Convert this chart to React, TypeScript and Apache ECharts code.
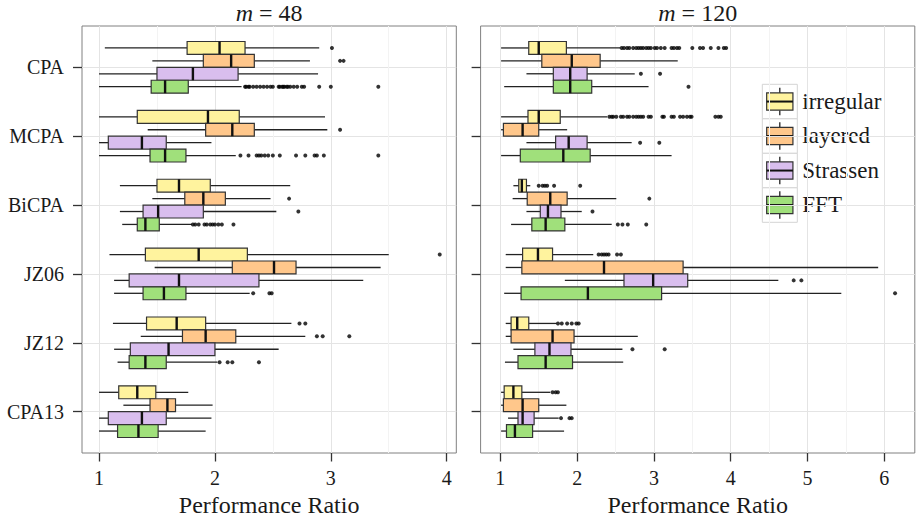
import React, { useEffect, useRef } from 'react';
import * as echarts from 'echarts';

const categories = ['CPA', 'MCPA', 'BiCPA', 'JZ06', 'JZ12', 'CPA13'];
const methods = ['irregular', 'layered', 'Strassen', 'FFT'];
const colors = ['#FFF39E', '#FFC78B', '#D9BEEE', '#A0E07B'];
const panelTitles = ['48', '120'];
const xTicks48 = [1, 2, 3, 4];
const xMinor48 = [1.5, 2.5, 3.5];
const xTicks120 = [1, 2, 3, 4, 5, 6];
const xMinor120 = [1.5, 2.5, 3.5, 4.5, 5.5];
const yTicks = [0, 1, 2, 3, 4, 5];
const axisTitle = 'Performance Ratio';

// boxes: [low whisker, q1, median, q3, high whisker] for CPA, MCPA, BiCPA, JZ06, JZ12, CPA13
const box48Irregular = [
  [1.05, 1.76, 2.04, 2.26, 2.9], [1.0, 1.33, 1.94, 2.21, 2.95], [1.18, 1.5, 1.69, 1.96, 2.65],
  [1.09, 1.4, 1.86, 2.28, 3.5], [1.12, 1.41, 1.67, 1.92, 2.66], [1.0, 1.17, 1.33, 1.49, 1.77],
];
const box48Layered = [
  [1.46, 1.9, 2.14, 2.34, 2.82], [1.42, 1.92, 2.15, 2.34, 2.97], [1.46, 1.74, 1.9, 2.09, 2.48],
  [1.48, 2.15, 2.51, 2.7, 3.43], [1.36, 1.72, 1.92, 2.18, 2.78], [1.21, 1.44, 1.59, 1.66, 1.98],
];
const box48Strassen = [
  [1.0, 1.5, 1.81, 2.2, 2.89], [1.0, 1.08, 1.37, 1.58, 1.97], [1.18, 1.38, 1.51, 1.9, 2.53],
  [1.13, 1.26, 1.69, 2.38, 3.28], [1.13, 1.27, 1.6, 2.0, 2.55], [1.0, 1.08, 1.37, 1.58, 1.97],
];
const box48FFT = [
  [1.0, 1.45, 1.57, 1.77, 2.23], [1.0, 1.44, 1.57, 1.75, 2.18], [1.2, 1.33, 1.4, 1.52, 1.8],
  [1.13, 1.38, 1.56, 1.75, 2.3], [1.16, 1.26, 1.4, 1.58, 2.02], [1.0, 1.16, 1.34, 1.51, 1.92],
];
const out48Irregular = [[3.01], [], [], [3.94], [2.73, 2.78], []];
const out48Layered = [[3.08, 3.11], [3.08], [2.64], [], [2.88, 2.93, 3.16], []];
const out48Strassen = [[], [], [2.72], [], [], []];
const out48FFT = [
  [2.26, 2.27, 2.29, 2.3, 2.33, 2.36, 2.39, 2.42, 2.45, 2.48, 2.5, 2.55, 2.56, 2.58, 2.59, 2.6, 2.62, 2.63, 2.65, 2.68, 2.71, 2.75, 2.77, 2.9, 3.0, 3.41],
  [2.22, 2.29, 2.36, 2.38, 2.4, 2.43, 2.46, 2.5, 2.56, 2.7, 2.78, 2.86, 2.88, 2.94, 3.41],
  [1.81, 1.83, 1.86, 1.91, 1.93, 1.96, 1.98, 2.0, 2.03, 2.06, 2.16],
  [2.33, 2.47, 2.49],
  [2.04, 2.11, 2.15, 2.38],
  [],
];

const box120Irregular = [
  [1.01, 1.37, 1.5, 1.86, 2.56], [1.01, 1.36, 1.5, 1.78, 2.39], [1.17, 1.24, 1.28, 1.34, 1.39],
  [1.07, 1.29, 1.49, 1.68, 2.21], [1.07, 1.14, 1.22, 1.37, 1.73], [1.01, 1.05, 1.17, 1.28, 1.65],
];
const box120Layered = [
  [1.01, 1.54, 1.93, 2.3, 3.31], [1.01, 1.04, 1.29, 1.5, 1.87], [1.16, 1.35, 1.65, 1.87, 2.51],
  [1.07, 1.28, 2.35, 3.38, 5.92], [1.07, 1.14, 1.68, 1.96, 2.79], [1.01, 1.04, 1.29, 1.5, 1.86],
];
const box120Strassen = [
  [1.34, 1.69, 1.91, 2.13, 2.75], [1.34, 1.72, 1.89, 2.13, 2.71], [1.34, 1.52, 1.62, 1.79, 2.06],
  [1.84, 2.61, 2.99, 3.44, 4.62], [1.17, 1.45, 1.64, 1.92, 2.59], [1.1, 1.23, 1.29, 1.44, 1.76],
];
const box120FFT = [
  [1.05, 1.69, 1.91, 2.19, 2.93], [1.01, 1.26, 1.82, 2.17, 3.23], [1.14, 1.41, 1.59, 1.84, 2.45],
  [1.05, 1.27, 2.14, 3.1, 5.44], [1.06, 1.23, 1.59, 1.94, 2.6], [1.01, 1.08, 1.19, 1.42, 1.83],
];
const out120Irregular = [
  [2.58, 2.61, 2.65, 2.68, 2.73, 2.77, 2.8, 2.83, 2.86, 2.9, 2.93, 2.96, 3.01, 3.04, 3.09, 3.14, 3.23, 3.26, 3.3, 3.33, 3.5, 3.6, 3.64, 3.74, 3.84, 3.91, 3.94],
  [2.42, 2.45, 2.47, 2.51, 2.57, 2.6, 2.65, 2.68, 2.73, 2.77, 2.8, 2.83, 2.86, 2.93, 2.96, 3.11, 3.13, 3.23, 3.26, 3.34, 3.38, 3.43, 3.47, 3.49, 3.8, 3.84, 3.87],
  [1.5, 1.55, 1.58, 1.61, 1.7, 2.04],
  [2.28, 2.32, 2.35, 2.38, 2.41, 2.52, 2.57],
  [1.75, 1.8, 1.87, 1.93, 1.99, 2.02],
  [1.68, 1.72, 1.75],
];
const out120Layered = [[], [], [2.94], [], [], []];
const out120Strassen = [[2.83, 3.08], [2.82, 3.07], [2.2], [4.82, 4.92], [2.72, 3.14], [1.79, 1.9, 1.93]];
const out120FFT = [[3.45], [], [2.53, 2.59, 2.66, 2.9], [6.14], [], []];

const panels = [
  { boxes: [box48Irregular, box48Layered, box48Strassen, box48FFT], outs: [out48Irregular, out48Layered, out48Strassen, out48FFT] },
  { boxes: [box120Irregular, box120Layered, box120Strassen, box120FFT], outs: [out120Irregular, out120Layered, out120Strassen, out120FFT] },
];

const FONT = 'Liberation Serif, Times New Roman, serif';
const DODGE = 0.1875;
const INK = '#1a1a1a';

const gridsPx = [
  { left: 82, top: 26, width: 374.3, height: 427 },
  { left: 480.6, top: 26, width: 434.2, height: 427 },
];
const xRanges = [[0.853, 4.083], [0.743, 6.397]];

function renderBox(k: number) {
  return (_params: any, api: any) => {
    const cat = api.value(0);
    const lo = api.value(1), q1 = api.value(2), med = api.value(3), q3 = api.value(4), hi = api.value(5);
    const unit = api.size([0, 1])[1];
    const h = DODGE * unit;
    const yc = api.coord([lo, cat])[1] + (k - 1.5) * h;
    const px = (v: number) => api.coord([v, cat])[0];
    const wStyle = { stroke: '#222', lineWidth: 1.3 };
    return {
      type: 'group',
      children: [
        { type: 'line', shape: { x1: px(lo), y1: yc, x2: px(q1), y2: yc }, style: wStyle },
        { type: 'line', shape: { x1: px(q3), y1: yc, x2: px(hi), y2: yc }, style: wStyle },
        {
          type: 'rect',
          shape: { x: px(q1), y: yc - h / 2, width: px(q3) - px(q1), height: h },
          style: { fill: colors[k], stroke: '#333', lineWidth: 1.2 },
        },
        { type: 'line', shape: { x1: px(med), y1: yc - h / 2, x2: px(med), y2: yc + h / 2 }, style: { stroke: '#111', lineWidth: 2.4 } },
      ],
    };
  };
}

function buildOption() {
  const series: any[] = [];
  panels.forEach((p, pi) => {
    methods.forEach((name, k) => {
      series.push({
        type: 'custom',
        name,
        xAxisIndex: pi * 2,
        yAxisIndex: pi,
        renderItem: renderBox(k),
        encode: { x: [1, 2, 3, 4, 5], y: 0 },
        data: p.boxes[k].map((b, ci) => [ci, ...b]),
        z: 3,
      });
      const pts: number[][] = [];
      p.outs[k].forEach((arr, ci) => arr.forEach((v) => pts.push([v, ci + (k - 1.5) * DODGE])));
      series.push({
        type: 'scatter',
        name: name + ' outliers',
        xAxisIndex: pi * 2,
        yAxisIndex: pi,
        data: pts,
        symbolSize: 4,
        itemStyle: { color: '#000' },
        z: 4,
      });
    });
  });

  const txt = { fontFamily: FONT, fontStyle: 'normal', fontWeight: 'normal', color: INK };

  const xAxis: any[] = [];
  [xTicks48, xTicks120].forEach((ticks, pi) => {
    const minor = pi === 0 ? xMinor48 : xMinor120;
    xAxis.push({
      type: 'value', gridIndex: pi, min: xRanges[pi][0], max: xRanges[pi][1], position: 'bottom',
      axisLine: { show: false, onZero: false },
      axisTick: { show: true, customValues: ticks, length: 8.5, lineStyle: { color: '#333', width: 1.3 } },
      axisLabel: { customValues: ticks, margin: 15, ...txt, fontSize: 20 },
      splitLine: { show: true, lineStyle: { color: '#e4e4e4', width: 1 } },
      name: axisTitle, nameLocation: 'middle', nameGap: 24,
      nameTextStyle: { ...txt, fontSize: 24 },
    });
    xAxis.push({
      type: 'value', gridIndex: pi, min: xRanges[pi][0], max: xRanges[pi][1], position: 'top',
      axisLine: { show: false, onZero: false },
      axisTick: { show: false, customValues: minor },
      axisLabel: { show: false, customValues: minor },
      splitLine: { show: true, lineStyle: { color: '#f3f3f3', width: 1 } },
    });
  });

  const yAxis: any[] = [0, 1].map((pi) => ({
    type: 'value', gridIndex: pi, inverse: true, min: -0.6, max: 5.6,
    axisLine: { show: false, onZero: false },
    axisTick: { show: true, customValues: yTicks, length: 9, lineStyle: { color: '#333', width: 1.3 } },
    axisLabel: {
      show: pi === 0, customValues: yTicks, margin: 18, ...txt, fontSize: 20,
      formatter: (v: number) => categories[Math.round(v)] ?? '',
    },
    splitLine: { show: true, lineStyle: { color: '#e4e4e4', width: 1 } },
  }));

  const graphic: any[] = [];
  gridsPx.forEach((g, pi) => {
    graphic.push({
      type: 'text', x: g.left + g.width / 2, y: 13, z: 50,
      style: {
        text: '{i|m} = ' + panelTitles[pi], align: 'center', verticalAlign: 'middle',
        fontFamily: FONT, fontSize: 24, fill: INK,
        rich: { i: { fontStyle: 'italic', fontFamily: FONT, fontSize: 24, fill: INK } },
      },
    });
  });
  // legend
  const lgX = 762.3, lgY = 84.3, keyW = 35, keyH = 34.5;
  const legendChildren: any[] = [
    { type: 'rect', shape: { x: 752, y: 48, width: 140, height: 185 }, style: { fill: '#fff' } },
  ];
  methods.forEach((name, k) => {
    const top = lgY + k * keyH;
    const cx = lgX + keyW / 2;
    legendChildren.push(
      { type: 'rect', shape: { x: lgX, y: top, width: keyW, height: keyH }, style: { fill: '#fff', stroke: '#d4d4d4', lineWidth: 1 } },
      { type: 'line', shape: { x1: cx, y1: top + keyH * 0.1, x2: cx, y2: top + keyH * 0.25 }, style: { stroke: '#222', lineWidth: 1.3 } },
      { type: 'line', shape: { x1: cx, y1: top + keyH * 0.75, x2: cx, y2: top + keyH * 0.9 }, style: { stroke: '#222', lineWidth: 1.3 } },
      { type: 'rect', shape: { x: lgX + keyW * 0.125, y: top + keyH * 0.25, width: keyW * 0.75, height: keyH * 0.5 }, style: { fill: colors[k], stroke: '#333', lineWidth: 1.2 } },
      { type: 'line', shape: { x1: lgX + keyW * 0.125, y1: top + keyH / 2, x2: lgX + keyW * 0.875, y2: top + keyH / 2 }, style: { stroke: '#111', lineWidth: 2 } },
      { type: 'text', x: lgX + keyW + 5, y: top + keyH / 2 - 0.5, style: { text: name, align: 'left', verticalAlign: 'middle', fontFamily: FONT, fontSize: 23, fill: INK } },
    );
  });
  graphic.push({ type: 'group', z: 50, children: legendChildren });

  return {
    animation: false,
    backgroundColor: '#fff',
    textStyle: { fontFamily: FONT, color: INK },
    grid: gridsPx.map((g) => ({
      ...g, show: true, borderColor: '#808080', borderWidth: 1, backgroundColor: '#fff',
      containLabel: false, outerBoundsMode: 'none',
    })),
    xAxis,
    yAxis,
    series,
    graphic,
  };
}

export default function App() {
  const ref = useRef<HTMLDivElement>(null);
  useEffect(() => {
    if (!ref.current) return;
    const chart = echarts.init(ref.current, undefined, { renderer: 'svg' });
    chart.setOption(buildOption() as any);
    return () => chart.dispose();
  }, []);
  return <div ref={ref} style={{ position: 'fixed', left: 0, top: 0, width: 918, height: 514 }} />;
}
